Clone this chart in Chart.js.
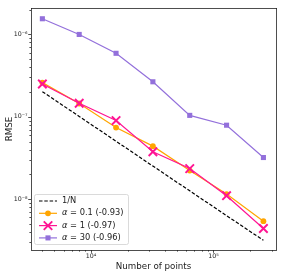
<!DOCTYPE html>
<html lang="en">
<head>
    <meta charset="UTF-8">
    <title>RMSE vs number of points</title>
    <script src="https://cdn.jsdelivr.net/npm/chart.js@4"></script>
    <style>
        html, body {
            margin: 0;
            padding: 0;
            background: #fff;
        }
        #wrap {
            width: 284px;
            height: 274px;
        }
    </style>
</head>
<body>
    <div id="wrap"><canvas id="rmseChart"></canvas></div>

    <script>
        // data
        var nPoints = [4000, 8000, 16000, 32000, 64000, 128000, 256000];
        var invN = [2.02e-7, 1.01e-7, 5.05e-8, 2.52e-8, 1.26e-8, 6.3e-9, 3.16e-9];
        var rmseA01 = [2.6e-7, 1.45e-7, 7.4e-8, 4.4e-8, 2.22e-8, 1.15e-8, 5.4e-9];
        var rmseA1 = [2.5e-7, 1.46e-7, 9.0e-8, 3.76e-8, 2.35e-8, 1.1e-8, 4.4e-9];
        var rmseA30 = [1.55e-6, 1.0e-6, 5.9e-7, 2.66e-7, 1.04e-7, 7.9e-8, 3.2e-8];

        var seriesNames = ['1/N', '= 0.1 (-0.93)', '= 1 (-0.97)', '= 30 (-0.96)'];

        // tick labels
        var xTickValues = [1e4, 1e5];
        var xTickLabels = ['10\u2074', '10\u2075'];
        var yTickValues = [1e-8, 1e-7, 1e-6];
        var yTickLabels = ['10\u207B\u2078', '10\u207B\u2077', '10\u207B\u2076'];

        function pts(ys) {
            return nPoints.map(function (x, i) { return { x: x, y: ys[i] }; });
        }

        function minorTicks(lo, hi) {
            var out = [];
            for (var e = Math.floor(Math.log10(lo)); e <= Math.ceil(Math.log10(hi)); e++) {
                for (var m = 2; m <= 9; m++) {
                    var v = m * Math.pow(10, e);
                    if (v >= lo && v <= hi) out.push(v);
                }
            }
            return out;
        }

        function setTicks(majors) {
            return function (scale) {
                var t = majors.map(function (v) { return { value: v, major: true }; });
                minorTicks(scale.min, scale.max).forEach(function (v) {
                    t.push({ value: v, major: false });
                });
                t.sort(function (a, b) { return a.value - b.value; });
                scale.ticks = t;
            };
        }

        function labelFor(values, labels) {
            return function (v) {
                for (var i = 0; i < values.length; i++) {
                    if (Math.abs(v / values[i] - 1) < 1e-6) return labels[i];
                }
                return '';
            };
        }

        // axes frame + matplotlib-like tick marks
        var framePlugin = {
            id: 'framePlugin',
            afterDatasetsDraw: function (chart) {
                var ctx = chart.ctx, a = chart.chartArea;
                var xs = chart.scales.x, ys = chart.scales.y;
                ctx.save();
                ctx.strokeStyle = '#222';
                ctx.lineWidth = 0.8;
                ctx.beginPath();
                xs.ticks.forEach(function (t) {
                    var px = Math.round(xs.getPixelForValue(t.value)) + 0.5;
                    ctx.moveTo(px, a.bottom);
                    ctx.lineTo(px, a.bottom + (t.major ? 2.8 : 1.6));
                });
                ys.ticks.forEach(function (t) {
                    var py = Math.round(ys.getPixelForValue(t.value)) + 0.5;
                    ctx.moveTo(a.left, py);
                    ctx.lineTo(a.left - (t.major ? 2.8 : 1.6), py);
                });
                ctx.stroke();
                ctx.strokeRect(a.left + 0.5, a.top + 0.5, a.right - a.left, a.bottom - a.top);
                ctx.restore();
            }
        };

        // legend in the lower left corner
        var legendPlugin = {
            id: 'cornerLegend',
            afterDraw: function (chart) {
                var ctx = chart.ctx, a = chart.chartArea;
                var x0 = a.left + 3, y0 = a.bottom - 56, w = 94, h = 50;
                ctx.save();
                ctx.fillStyle = 'rgba(255,255,255,0.8)';
                ctx.strokeStyle = '#d0d0d0';
                ctx.lineWidth = 0.8;
                ctx.beginPath();
                ctx.roundRect(x0 + 0.5, y0 + 0.5, w, h, 2);
                ctx.fill();
                ctx.stroke();

                chart.data.datasets.forEach(function (ds, i) {
                    var cy = y0 + 7 + i * 12.3;
                    var lx0 = x0 + 5, lx1 = x0 + 23, mx = (lx0 + lx1) / 2;
                    ctx.strokeStyle = ds.borderColor;
                    ctx.lineWidth = ds.borderWidth;
                    ctx.setLineDash(ds.borderDash || []);
                    ctx.beginPath();
                    ctx.moveTo(lx0, cy);
                    ctx.lineTo(lx1, cy);
                    ctx.stroke();
                    ctx.setLineDash([]);
                    if (ds.pointRadius > 0) {
                        ctx.fillStyle = ds.backgroundColor;
                        ctx.strokeStyle = ds.borderColor;
                        ctx.lineWidth = ds.pointBorderWidth;
                        Chart.helpers.drawPoint(ctx, {
                            pointStyle: ds.pointStyle,
                            radius: ds.pointRadius,
                            borderWidth: ds.pointBorderWidth,
                            rotation: 0
                        }, mx, cy);
                    }
                    ctx.fillStyle = '#222';
                    ctx.textBaseline = 'middle';
                    var tx = x0 + 28;
                    if (i > 0) {
                        ctx.font = 'italic 8.3px "DejaVu Sans"';
                        ctx.fillText('\u03B1', tx, cy);
                        tx += ctx.measureText('\u03B1 ').width;
                    }
                    ctx.font = '8.3px "DejaVu Sans"';
                    ctx.fillText(seriesNames[i], tx, cy);
                });
                ctx.restore();
            }
        };

        var ctxR = document.getElementById('rmseChart').getContext('2d');
        var rmseChart = new Chart(ctxR, {
            type: 'scatter',
            data: {
                datasets: [{
                    label: seriesNames[0],
                    data: pts(invN),
                    showLine: true,
                    borderColor: '#000',
                    backgroundColor: '#000',
                    borderWidth: 1.2,
                    borderDash: [3.5, 1.8],
                    pointRadius: 0,
                    order: 3
                }, {
                    label: seriesNames[1],
                    data: pts(rmseA01),
                    showLine: true,
                    borderColor: '#ffa500',
                    backgroundColor: '#ffa500',
                    borderWidth: 1.2,
                    pointStyle: 'circle',
                    pointRadius: 2.9,
                    pointBorderWidth: 0,
                    order: 2
                }, {
                    label: seriesNames[2],
                    data: pts(rmseA1),
                    showLine: true,
                    borderColor: '#ff1493',
                    backgroundColor: '#ff1493',
                    borderWidth: 1.2,
                    pointStyle: 'crossRot',
                    pointRadius: 6,
                    pointBorderWidth: 1.9,
                    order: 1
                }, {
                    label: seriesNames[3],
                    data: pts(rmseA30),
                    showLine: true,
                    borderColor: '#9370db',
                    backgroundColor: '#9370db',
                    borderWidth: 1.2,
                    pointStyle: 'rect',
                    pointRadius: 3.6,
                    pointBorderWidth: 0,
                    order: 0
                }]
            },
            options: {
                responsive: true,
                maintainAspectRatio: false,
                animation: false,
                devicePixelRatio: 1,
                layout: { padding: { top: 4, right: 4, left: 0, bottom: 0 } },
                plugins: {
                    legend: { display: false },
                    tooltip: { enabled: false }
                },
                scales: {
                    x: {
                        type: 'logarithmic',
                        min: 3230,
                        max: 325000,
                        afterFit: function (s) { s.height = 24; },
                        afterBuildTicks: setTicks(xTickValues),
                        grid: { display: false, drawTicks: false },
                        border: { display: false },
                        ticks: {
                            autoSkip: false,
                            maxRotation: 0,
                            padding: 3,
                            color: '#222',
                            font: { family: 'DejaVu Sans', size: 6.3 },
                            callback: labelFor(xTickValues, xTickLabels)
                        },
                        title: {
                            display: true,
                            text: 'Number of points',
                            color: '#222',
                            padding: { top: 0, bottom: 2.5 },
                            font: { family: 'DejaVu Sans', size: 8.7 }
                        }
                    },
                    y: {
                        type: 'logarithmic',
                        min: 2.41e-9,
                        max: 2.1e-6,
                        afterFit: function (s) { s.width = 31; },
                        afterBuildTicks: setTicks(yTickValues),
                        grid: { display: false, drawTicks: false },
                        border: { display: false },
                        ticks: {
                            autoSkip: false,
                            padding: 3.5,
                            color: '#222',
                            font: { family: 'DejaVu Sans', size: 6.3 },
                            callback: labelFor(yTickValues, yTickLabels)
                        },
                        title: {
                            display: true,
                            text: 'RMSE',
                            color: '#222',
                            padding: { top: 4.5, bottom: 0 },
                            font: { family: 'DejaVu Sans', size: 8.7 }
                        }
                    }
                }
            },
            plugins: [framePlugin, legendPlugin]
        });
    </script>
</body>
</html>
